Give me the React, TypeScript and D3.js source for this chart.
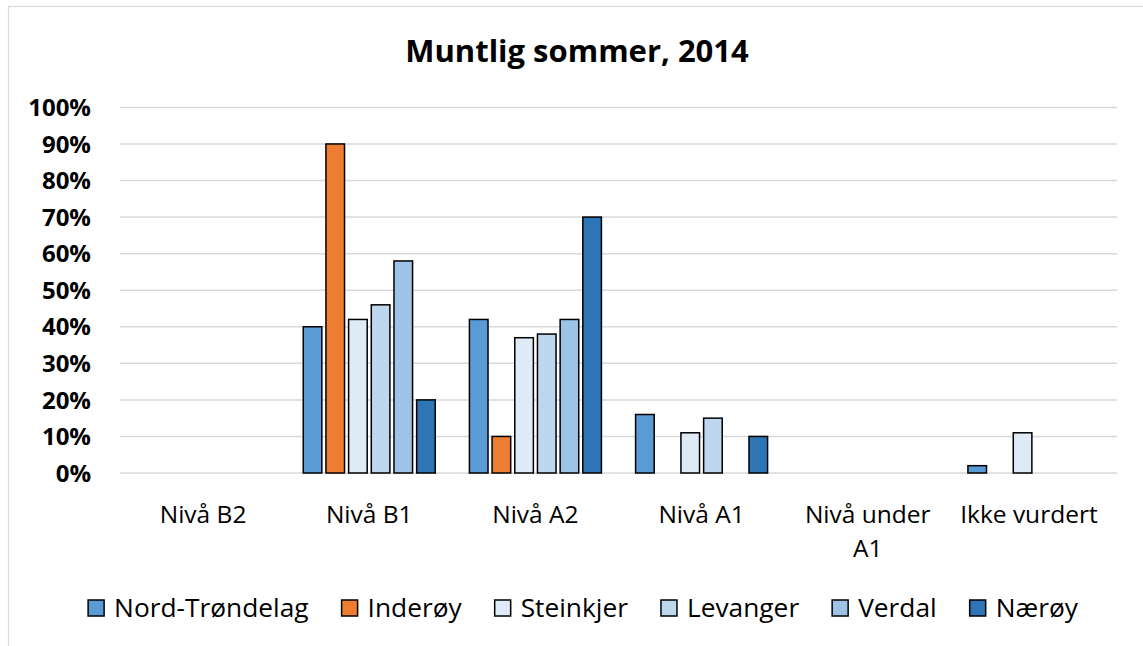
import React, { useEffect, useRef } from "react";
import * as d3 from "d3";

const categories = ["Nivå B2", "Nivå B1", "Nivå A2", "Nivå A1", "Nivå under A1", "Ikke vurdert"];
const categoryLines = [["Nivå B2"], ["Nivå B1"], ["Nivå A2"], ["Nivå A1"], ["Nivå under", "A1"], ["Ikke vurdert"]];
const seriesNames = ["Nord-Trøndelag", "Inderøy", "Steinkjer", "Levanger", "Verdal", "Nærøy"];
const seriesColors = ["#5B9BD5", "#ED7D31", "#DEEBF7", "#BDD7EE", "#9DC3E6", "#2E75B6"];
const nordTrondelag = [0, 40, 42, 16, 0, 2];
const inderoy = [0, 90, 10, 0, 0, 0];
const steinkjer = [0, 42, 37, 11, 0, 11];
const levanger = [0, 46, 38, 15, 0, 0];
const verdal = [0, 58, 42, 0, 0, 0];
const naeroy = [0, 20, 70, 10, 0, 0];
const seriesValues = [nordTrondelag, inderoy, steinkjer, levanger, verdal, naeroy];
const yTicks = [0, 10, 20, 30, 40, 50, 60, 70, 80, 90, 100];
const title = "Muntlig sommer, 2014";

const W = 1143;
const H = 646;
const FONT = "'Open Sans', Lato, sans-serif";

export default function App() {
  const ref = useRef<SVGSVGElement | null>(null);

  useEffect(() => {
    const svg = d3.select(ref.current);
    svg.selectAll("*").remove();

    const plot = { left: 120, right: 1117, top: 107.4, bottom: 473 };

    // chart border
    svg.append("rect")
      .attr("x", 8.5).attr("y", 6.5)
      .attr("width", W + 10).attr("height", H + 10)
      .attr("fill", "#fff").attr("stroke", "#D9D9D9").attr("stroke-width", 1.2);

    svg.append("text")
      .attr("x", 577).attr("y", 62)
      .attr("text-anchor", "middle")
      .attr("font-family", FONT).attr("font-weight", 700).attr("font-size", 31)
      .attr("fill", "#000")
      .text(title);

    const y = d3.scaleLinear().domain([0, 100]).range([plot.bottom, plot.top]);
    const x0 = d3.scaleBand<string>().domain(categories).range([plot.left, plot.right]).paddingInner(0).paddingOuter(0);
    const groupWidth = 132;
    const x1 = d3.scaleBand<string>().domain(seriesNames).range([0, groupWidth]).paddingInner(0.18).paddingOuter(0);

    const grid = svg.append("g");
    grid.selectAll("line").data(yTicks).join("line")
      .attr("x1", plot.left).attr("x2", plot.right)
      .attr("y1", (d) => y(d)).attr("y2", (d) => y(d))
      .attr("stroke", "#D9D9D9").attr("stroke-width", 1.5);

    svg.append("g").selectAll("text").data(yTicks).join("text")
      .attr("x", 91).attr("y", (d) => y(d))
      .attr("dy", "0.36em")
      .attr("text-anchor", "end")
      .attr("font-family", FONT).attr("font-weight", 700).attr("font-size", 24)
      .attr("fill", "#000")
      .text((d) => `${d}%`);

    const groups = svg.append("g").selectAll("g").data(categories).join("g")
      .attr("transform", (c) => `translate(${(x0(c) as number) + x0.bandwidth() / 2 - groupWidth / 2},0)`);

    groups.selectAll("rect")
      .data((c, i) => seriesNames.map((s, si) => ({ s, si, v: seriesValues[si][i] })).filter((d) => d.v > 0))
      .join("rect")
      .attr("x", (d) => x1(d.s) as number)
      .attr("width", x1.bandwidth())
      .attr("y", (d) => y(d.v))
      .attr("height", (d) => y(0) - y(d.v))
      .attr("fill", (d) => seriesColors[d.si])
      .attr("stroke", "#000").attr("stroke-width", 1.5);

    const xl = svg.append("g");
    categories.forEach((c, i) => {
      const cx = (x0(c) as number) + x0.bandwidth() / 2;
      const t = xl.append("text")
        .attr("text-anchor", "middle")
        .attr("font-family", FONT).attr("font-size", 24.5).attr("fill", "#000");
      categoryLines[i].forEach((line, li) => {
        t.append("tspan").attr("x", cx - (i === 5 ? 5 : 0)).attr("y", 523 + li * 34).text(line);
      });
    });

    // legend
    const lg = svg.append("g");
    const items = seriesNames.map((name, i) => {
      const g = lg.append("g");
      g.append("rect").attr("x", 0).attr("y", -8).attr("width", 16).attr("height", 16)
        .attr("fill", seriesColors[i]).attr("stroke", "#000").attr("stroke-width", 1.5);
      const t = g.append("text").attr("x", 26).attr("y", 0).attr("dy", "0.36em")
        .attr("font-family", FONT).attr("font-size", 26.3).attr("fill", "#000").text(name);
      const w = 26 + (t.node() as SVGTextElement).getComputedTextLength();
      return { g, w };
    });
    const gap = 33;
    const total = d3.sum(items, (d) => d.w) + gap * (items.length - 1);
    let cx = 583 - total / 2;
    items.forEach((it) => {
      it.g.attr("transform", `translate(${cx},608)`);
      cx += it.w + gap;
    });
  }, []);

  return (
    <svg ref={ref} width={W} height={H} style={{ display: "block", position: "absolute", left: 0, top: 0 }} />
  );
}
